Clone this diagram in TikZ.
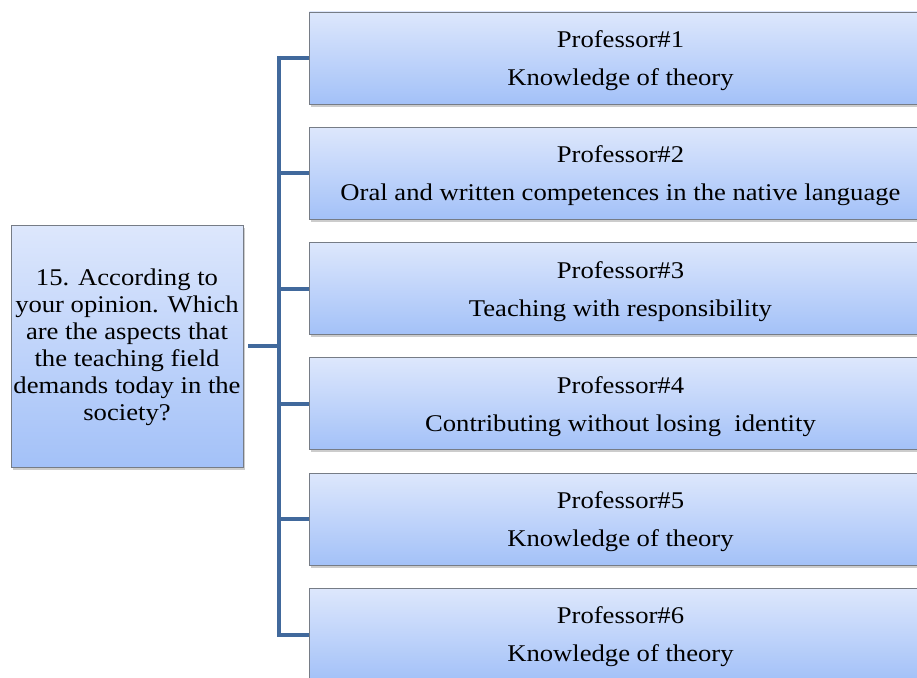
\documentclass[tikz,border=0pt]{standalone}
\usepackage{fontspec}
\setmainfont[FakeStretch=1.11]{Liberation Serif}
\usetikzlibrary{shadows}
\definecolor{linkblue}{HTML}{41699C}
\definecolor{boxtop}{HTML}{DDE7FC}
\definecolor{boxbot}{HTML}{A3C1F8}
\definecolor{boxedge}{HTML}{767C86}
\newcommand{\lowertext}[2]{\raisebox{-#1}[\height][\depth]{\begin{tabular}{@{}c@{}}#2\end{tabular}}}
\tikzset{
  box/.style={draw=boxedge, line width=0.9pt, top color=boxtop, bottom color=boxbot,
    drop shadow={opacity=0.4, shadow xshift=2pt, shadow yshift=-2.5pt},
    align=center, inner sep=0pt, font=\fontsize{24}{27}\selectfont},
  itembox/.style={box, minimum width=622pt, minimum height=92pt, anchor=west},
  link/.style={draw=linkblue, line width=4pt}
}
\begin{document}
\begin{tikzpicture}[x=1pt,y=-1pt]
\useasboundingbox (0,0) rectangle (917,677);
\node[box, minimum width=232pt, minimum height=242pt] (q) at (127,346)
  {\lowertext{2pt}{15. According to\\your opinion. Which\\are the aspects that\\the teaching field\\demands today in the\\society?}};
\node[itembox] (p1) at (309,58.0) {\lowertext{3pt}{Professor\#1\\[11pt]Knowledge of theory}};
\node[itembox] (p2) at (309,173.3) {\lowertext{3pt}{Professor\#2\\[11pt]Oral and written competences in the native language}};
\node[itembox] (p3) at (309,288.6) {\lowertext{3pt}{Professor\#3\\[11pt]Teaching with responsibility}};
\node[itembox] (p4) at (309,403.9) {\lowertext{3pt}{Professor\#4\\[11pt]Contributing without losing\ \ identity}};
\node[itembox] (p5) at (309,519.2) {\lowertext{3pt}{Professor\#5\\[11pt]Knowledge of theory}};
\node[itembox] (p6) at (309,634.5) {\lowertext{3pt}{Professor\#6\\[11pt]Knowledge of theory}};
\coordinate (vtop) at (279,58.0);
\coordinate (vbot) at (279,634.5);
\draw[link] ([yshift=2pt]vtop) -- ([yshift=-2pt]vbot);
\draw[link] ([xshift=5pt]q.east) -- (q.east -| vtop);
\foreach \b in {p1,p2,p3,p4,p5,p6}
  \draw[link] ([xshift=-2pt]\b.west -| vtop) -- (\b.west);
\end{tikzpicture}
\end{document}
